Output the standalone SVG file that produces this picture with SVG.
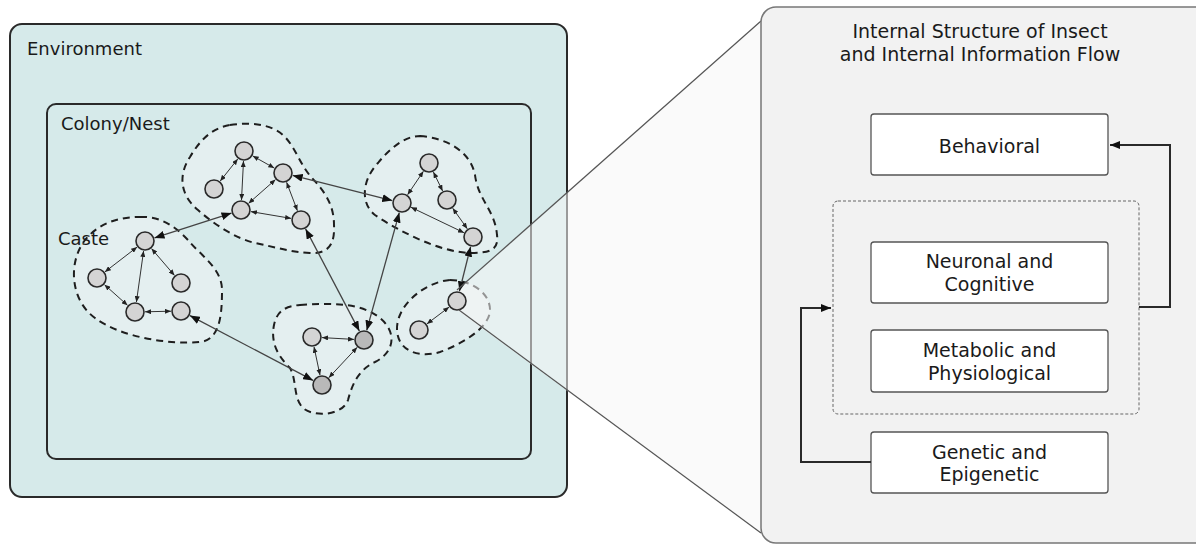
<svg xmlns="http://www.w3.org/2000/svg" width="1196" height="544" viewBox="0 0 1196 544">
<defs>
<style>
.lbl{font-family:"DejaVu Sans","Noto Sans",sans-serif;fill:#1a1a1a}
.big{font-size:18px}
.box{fill:#fff;stroke:#555;stroke-width:1.3}
.btx{font-family:"DejaVu Sans","Noto Sans",sans-serif;font-size:19px;fill:#1a1a1a;text-anchor:middle}
.blob{fill:#e4eff0;stroke:#1e1e1e;stroke-width:2;stroke-dasharray:7 5}
.nd{fill:#d4d4d4;stroke:#2a2a2a;stroke-width:1.6}
.nd2{fill:#b9b9b9;stroke:#2a2a2a;stroke-width:1.6}
.e{stroke:#333;stroke-width:1;fill:none;marker-start:url(#sa);marker-end:url(#sa)}
.x{stroke:#444;stroke-width:1.3;fill:none;marker-start:url(#la);marker-end:url(#la)}
.f{stroke:#2a2a2a;stroke-width:2;fill:none;marker-end:url(#pa)}
</style>
<marker id="sa" viewBox="0 0 6 5" refX="6" refY="2.5" markerWidth="6" markerHeight="5" markerUnits="userSpaceOnUse" orient="auto-start-reverse"><path d="M0,0 L6,2.5 L0,5 z" fill="#222"/></marker>
<marker id="la" viewBox="0 0 10 8" refX="10" refY="4" markerWidth="10" markerHeight="8" markerUnits="userSpaceOnUse" orient="auto-start-reverse"><path d="M0,0 L10,4 L0,8 z" fill="#111"/></marker>
<marker id="pa" viewBox="0 0 10 8" refX="10" refY="4" markerWidth="10" markerHeight="8" markerUnits="userSpaceOnUse" orient="auto"><path d="M0,0 L10,4 L0,8 z" fill="#111"/></marker>
</defs>
<rect width="1196" height="544" fill="#fff"/>

<g id="environment">
<rect x="10" y="24" width="557" height="473" rx="12" fill="#d6eaea" stroke="#2a2a2a" stroke-width="2"/>
<text class="lbl big" x="27" y="55">Environment</text>
</g>
<g id="colony">
<rect x="47" y="104" width="484" height="355" rx="9" fill="none" stroke="#2a2a2a" stroke-width="2"/>
<text class="lbl big" x="61" y="130">Colony/Nest</text>
</g>

<g id="castes">
<path id="caste-a" class="blob" d="M230,125 C250,122 272,124 284,136 C296,148 300,165 312,178 C325,192 334,205 334,225 C335,245 328,254 310,253 C290,252 275,247 255,243 C235,238 215,225 198,210 C180,195 178,175 190,157 C200,140 212,128 230,125 Z"/>
<path id="caste-b" class="blob" d="M420,136 C445,138 470,150 475,175 C478,200 495,210 497,235 C499,250 490,253 470,253 C440,252 400,232 375,215 C360,203 362,180 378,163 C390,148 405,136 420,136 Z"/>
<path id="caste-c" class="blob" d="M140,217 C160,216 175,226 188,240 C200,255 222,268 222,290 C222,315 220,340 200,342 C170,345 120,337 95,318 C70,300 68,262 85,240 C100,222 120,217 140,217 Z"/>
<path id="caste-d" class="blob" d="M300,305 C330,303 360,302 380,318 C397,332 395,352 375,362 C358,370 352,385 348,400 C343,415 315,418 303,408 C293,398 297,380 290,368 C280,358 270,345 274,325 C277,310 287,306 300,305 Z"/>
<path id="caste-e" class="blob" d="M450,280 C470,280 490,292 490,310 C490,328 460,345 440,352 C420,358 398,352 397,330 C396,305 425,282 450,280 Z"/>
<text class="lbl big" x="58" y="245">Caste</text>
</g>

<polygon id="zoom-beam-fill" points="457,290 761,21 761,533 457,310" fill="#f5f5f5" fill-opacity="0.55"/>

<g id="connectors">
<line class="e" x1="252.7" y1="155.9" x2="274.3" y2="168.1"/>
<line class="e" x1="237.8" y1="158.9" x2="220.2" y2="181.1"/>
<line class="e" x1="243.5" y1="161" x2="241.5" y2="200"/>
<line class="e" x1="275.5" y1="179.6" x2="248.5" y2="203.4"/>
<line class="e" x1="286.6" y1="182.3" x2="297.4" y2="210.7"/>
<line class="e" x1="250.9" y1="211.6" x2="291.1" y2="218.4"/>
<line class="e" x1="423.4" y1="171.3" x2="407.6" y2="194.7"/>
<line class="e" x1="433.4" y1="172" x2="442.6" y2="191"/>
<line class="e" x1="452.7" y1="208.2" x2="467.3" y2="228.8"/>
<line class="e" x1="411" y1="207.3" x2="464" y2="232.7"/>
<line class="e" x1="137.1" y1="247.1" x2="104.9" y2="271.9"/>
<line class="e" x1="143.6" y1="250.9" x2="136.4" y2="302.1"/>
<line class="e" x1="151.5" y1="248.6" x2="174.5" y2="275.4"/>
<line class="e" x1="104.5" y1="284.7" x2="127.5" y2="305.3"/>
<line class="e" x1="145" y1="311.8" x2="171" y2="311.2"/>
<line class="e" x1="322" y1="337.6" x2="354" y2="339.4"/>
<line class="e" x1="314" y1="346.8" x2="320" y2="375.2"/>
<line class="e" x1="357.2" y1="347.3" x2="328.8" y2="377.7"/>
<line class="e" x1="449.1" y1="307.1" x2="426.9" y2="323.9"/>
<line class="x" x1="292.7" y1="175.4" x2="392.3" y2="200.6"/>
<line class="x" x1="231.5" y1="213.1" x2="154.5" y2="237.9"/>
<line class="x" x1="189.9" y1="315.6" x2="313.1" y2="380.4"/>
<line class="x" x1="305.6" y1="228.9" x2="359.4" y2="331.1"/>
<line class="x" x1="399.3" y1="212.6" x2="366.7" y2="330.4"/>
<line class="x" x1="470.6" y1="246.7" x2="459.4" y2="291.3"/>
</g>

<g id="insects">
<g id="a1"><circle class="nd" cx="244" cy="151" r="9"/></g>
<g id="a2"><circle class="nd" cx="283" cy="173" r="9"/></g>
<g id="a3"><circle class="nd" cx="214" cy="189" r="9"/></g>
<g id="a4"><circle class="nd" cx="241" cy="210" r="9"/></g>
<g id="a5"><circle class="nd" cx="301" cy="220" r="9"/></g>
<g id="b1"><circle class="nd" cx="429" cy="163" r="9"/></g>
<g id="b2"><circle class="nd" cx="447" cy="200" r="9"/></g>
<g id="b3"><circle class="nd" cx="402" cy="203" r="9"/></g>
<g id="b4"><circle class="nd" cx="473" cy="237" r="9"/></g>
<g id="c1"><circle class="nd" cx="145" cy="241" r="9"/></g>
<g id="c2"><circle class="nd" cx="97" cy="278" r="9"/></g>
<g id="c3"><circle class="nd" cx="181" cy="283" r="9"/></g>
<g id="c4"><circle class="nd" cx="135" cy="312" r="9"/></g>
<g id="c5"><circle class="nd" cx="181" cy="311" r="9"/></g>
<g id="d1"><circle class="nd" cx="312" cy="337" r="9"/></g>
<g id="d2"><circle class="nd2" cx="364" cy="340" r="9"/></g>
<g id="d3"><circle class="nd2" cx="322" cy="385" r="9"/></g>
<g id="e1"><circle class="nd" cx="457" cy="301" r="9"/></g>
<g id="e2"><circle class="nd" cx="419" cy="330" r="9"/></g>
</g>

<g id="zoom-beam-lines" stroke="#555" stroke-width="1.2">
<line x1="457" y1="290" x2="761" y2="21"/>
<line x1="459" y1="310" x2="761" y2="533"/>
</g>

<g id="internal-panel">
<rect x="761" y="7" width="460" height="536" rx="15" fill="#f2f2f2" stroke="#777" stroke-width="1.5"/>
<text class="btx" x="980" y="38">Internal Structure of Insect</text>
<text class="btx" x="980" y="61">and Internal Information Flow</text>
</g>
<g id="middle-group">
<rect x="833" y="201" width="306" height="213" rx="5" fill="none" stroke="#666" stroke-width="1" stroke-dasharray="3 2"/>
</g>
<g id="behavioral">
<rect class="box" x="871" y="114" width="237" height="61" rx="3"/>
<text class="btx" x="989.5" y="153">Behavioral</text>
</g>
<g id="neuronal">
<rect class="box" x="871" y="242" width="237" height="61" rx="3"/>
<text class="btx" x="989.5" y="268">Neuronal and</text>
<text class="btx" x="989.5" y="291">Cognitive</text>
</g>
<g id="metabolic">
<rect class="box" x="871" y="330" width="237" height="62" rx="3"/>
<text class="btx" x="989.5" y="357">Metabolic and</text>
<text class="btx" x="989.5" y="380">Physiological</text>
</g>
<g id="genetic">
<rect class="box" x="871" y="432" width="237" height="61" rx="3"/>
<text class="btx" x="989.5" y="459">Genetic and</text>
<text class="btx" x="989.5" y="481">Epigenetic</text>
</g>
<g id="panel-connectors">
<polyline class="f" points="871,462 801,462 801,308 831,308"/>
<polyline class="f" points="1139,307 1170,307 1170,145 1110,145"/>
</g>
</svg>
